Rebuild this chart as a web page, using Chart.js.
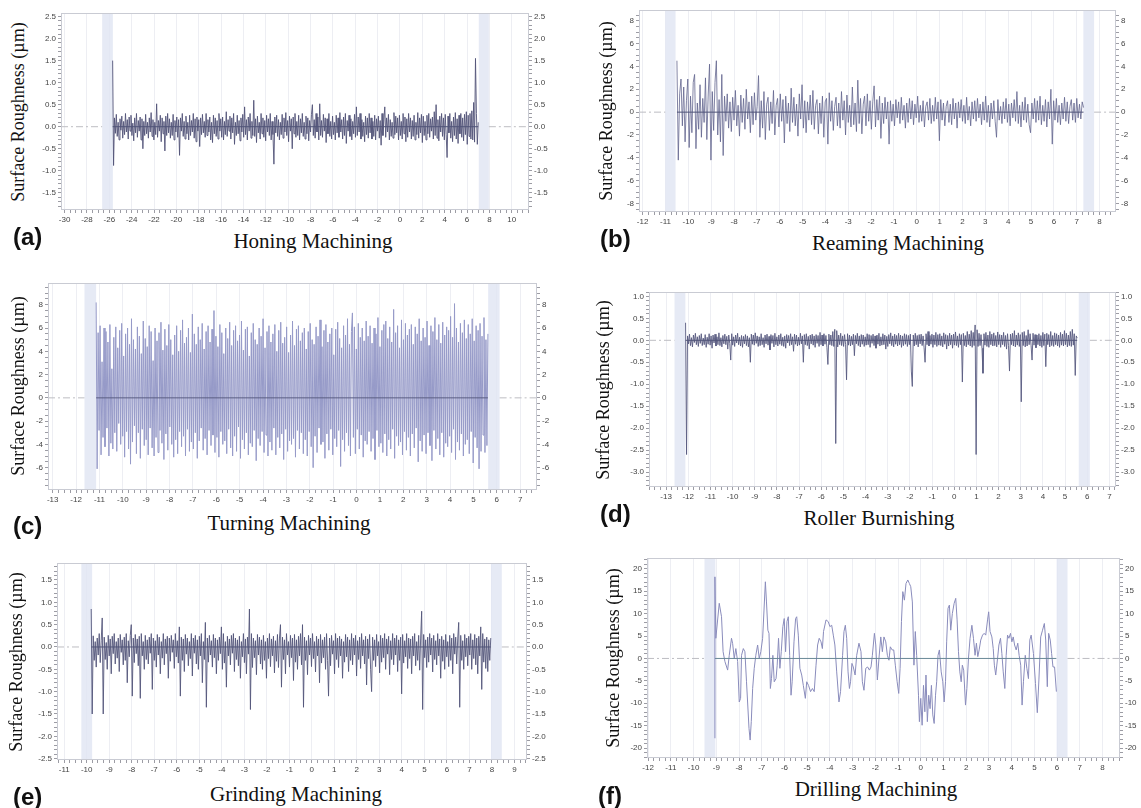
<!DOCTYPE html>
<html>
<head>
<meta charset="utf-8">
<script src="https://cdn.jsdelivr.net/npm/chart.js@4/dist/chart.umd.min.js"></script>
<style>
  body { margin: 0; width: 1141px; height: 808px; background: #fff; position: relative; overflow: hidden; }
  canvas { position: absolute; }
  .ytitle { position: absolute; transform: translate(-50%, -50%) rotate(-90deg); white-space: nowrap;
            font: 18px "Liberation Serif", "Times New Roman", serif; color: #111; }
  .xtitle { position: absolute; transform: translate(-50%, -50%); white-space: nowrap;
            font: 21px "Liberation Serif", "Times New Roman", serif; color: #111; }
  .tag { position: absolute; transform: translateY(-50%); white-space: nowrap;
         font: bold 24px "Liberation Sans", Arial, sans-serif; color: #111; }
</style>
</head>
<body>
<script>
// profile traces (µm)
const honingY = [
  1.5, -0.88, 0.2, -0.15, 0.28, -0.22, 0.1, -0.3, 0.18, -0.08, 0.24, -0.26, 0.12, -0.18, 0.3, -0.12, 0.16, -0.28, 0.22, -0.1,
  0.26, -0.2, 0.08, -0.32, 0.2, -0.14, 0.3, -0.24, 0.14, -0.1, 0.22, -0.3, 0.18, -0.5, 0.12, -0.2, 0.28, -0.16, 0.1, -0.26,
  0.2, -0.12, 0.32, -0.22, 0.16, -0.3, 0.1, -0.18, 0.52, -0.24, 0.14, -0.1, 0.26, -0.34, 0.2, -0.16, 0.12, -0.55, 0.24, -0.2,
  0.3, -0.14, 0.18, -0.26, 0.1, -0.2, 0.28, -0.3, 0.14, -0.12, 0.22, -0.24, 0.16, -0.65, 0.2, -0.1, 0.3, -0.22, 0.12, -0.28,
  0.24, -0.16, 0.1, -0.3, 0.26, -0.2, 0.14, -0.12, 0.3, -0.26, 0.18, -0.34, 0.22, -0.1, 0.16, -0.45, 0.2, -0.18, 0.28, -0.14,
  0.12, -0.24, 0.3, -0.2, 0.16, -0.12, 0.22, -0.3, 0.1, -0.36, 0.26, -0.16, 0.2, -0.22, 0.14, -0.28, 0.3, -0.1, 0.18, -0.24,
  0.22, -0.3, 0.12, -0.18, 0.34, -0.22, 0.16, -0.1, 0.24, -0.28, 0.2, -0.14, 0.3, -0.4, 0.1, -0.2, 0.26, -0.16, 0.14, -0.32,
  0.2, -0.12, 0.28, -0.24, 0.45, -0.18, 0.16, -0.3, 0.22, -0.1, 0.3, -0.26, 0.12, -0.2, 0.6, -0.22, 0.18, -0.36, 0.24, -0.14,
  0.1, -0.28, 0.3, -0.16, 0.2, -0.24, 0.14, -0.32, 0.26, -0.12, 0.18, -0.2, 0.3, -0.3, 0.12, -0.18, -0.85, 0.22, -0.14, 0.26,
  -0.22, 0.16, -0.3, 0.1, -0.18, 0.28, -0.26, 0.2, -0.12, 0.32, -0.2, 0.14, -0.34, 0.24, -0.1, 0.18, -0.5, 0.22, -0.16, 0.3,
  -0.24, 0.12, -0.2, 0.26, -0.3, 0.18, -0.14, 0.3, -0.22, 0.1, -0.28, 0.24, -0.16, 0.2, -0.32, 0.14, -0.12, 0.28, 0.5, -0.2,
  0.16, -0.26, 0.3, -0.12, 0.22, -0.3, 0.52, -0.2, 0.14, -0.24, 0.28, -0.1, 0.2, -0.36, 0.18, -0.16, 0.3, -0.22, 0.12, -0.28,
  0.24, -0.18, 0.1, -0.3, 0.26, -0.14, 0.2, -0.24, 0.32, -0.12, 0.16, -0.28, 0.22, -0.2, 0.3, -0.38, 0.14, -0.1, 0.26, -0.22,
  0.18, -0.3, 0.12, -0.16, 0.28, -0.24, 0.45, -0.2, 0.22, -0.12, 0.3, -0.28, 0.16, -0.22, 0.1, -0.34, 0.24, -0.18, 0.2, -0.26,
  0.3, -0.14, 0.2, -0.28, 0.12, -0.22, 0.26, -0.3, 0.18, -0.1, 0.24, -0.26, 0.14, -0.42, 0.3, -0.2, 0.16, 0.45, -0.24, 0.2,
  -0.12, 0.28, -0.3, 0.16, -0.22, 0.1, -0.26, 0.32, -0.18, 0.24, -0.14, 0.2, -0.3, 0.26, -0.2, 0.12, -0.28, 0.3, -0.16, 0.22,
  -0.34, 0.18, -0.24, 0.3, -0.12, 0.2, -0.28, 0.14, -0.22, 0.26, -0.3, 0.1, -0.18, 0.32, -0.26, 0.2, -0.14, 0.28, -0.36, 0.24,
  -0.2, 0.12, -0.3, 0.26, -0.16, 0.3, -0.24, 0.18, -0.1, 0.22, -0.28, 0.34, -0.2, 0.5, -0.26, 0.16, -0.32, 0.24, -0.12, 0.3,
  -0.22, 0.2, -0.3, 0.28, -0.18, -0.7, 0.24, -0.14, 0.3, -0.26, 0.12, -0.34, 0.22, -0.2, 0.32, -0.28, 0.18, -0.38, 0.26, -0.16,
  0.3, -0.24, 0.2, -0.32, 0.28, -0.18, 0.34, -0.4, 0.26, -0.22, 0.3, -0.28, 0.36, -0.3, 0.55, -0.35, 1.55, 0.3, -0.4, 0.1
];
const reamingY = [
  4.5, -4.2, 1.6, 2.9, -1.2, 2.2, -2.6, 1.0, 2.9, -3.1, 1.4, -1.8, 2.6, 3.3, -3.2, 0.8, -1.5, 2.4, -2.2, 1.2,
  -0.9, 3.0, -2.4, 1.5, 4.2, -4.2, 1.8, -1.6, 2.6, 4.5, -2.0, 1.1, -2.6, 3.3, -3.8, 1.4, -0.8, 1.6, -1.4, 0.9,
  -1.7, 1.3, -0.7, 1.9, -1.2, 0.6, -2.1, 1.5, -0.9, 1.2, -1.5, 2.0, -0.6, 0.9, -1.8, 1.4, -1.1, 1.7, -0.7, 0.5,
  3.2, -2.2, 1.0, -1.4, 1.8, -2.4, 0.7, 1.3, -1.6, 0.9, -1.0, 1.9, -2.0, 0.6, 1.2, -1.3, 1.6, -0.8, 1.1, -2.7,
  1.4, -1.0, 0.8, -1.7, 2.1, -0.9, 1.3, -1.2, 0.7, -2.1, 1.6, -0.6, 2.4, -1.4, 1.0, -1.8, 0.9, -0.7, 1.5, -1.1,
  1.9, -1.5, 0.6, 1.1, -1.9, 0.8, -1.0, 1.4, -2.2, 0.9, 1.2, -2.8, 1.7, -0.8, 1.0, -1.6, 0.5, 1.3, -1.2, 0.8,
  -1.4, 1.8, -0.7, 1.0, -2.0, 1.5, -0.9, 0.6, -1.3, 2.2, -1.1, 0.8, -1.7, 2.8, -1.0, 1.2, -1.9, 0.7, 1.4, -1.2,
  1.6, -0.8, 1.0, -1.5, 0.9, 2.3, -1.3, 1.1, -0.7, 1.4, -2.3, 0.8, -1.0, 1.3, -0.6, 0.9, -2.8, 1.0, -0.8, 0.7,
  -1.2, 1.1, -0.5, 0.9, -1.0, 1.3, -0.7, 0.6, -1.4, 0.8, -0.9, 1.2, -0.6, 1.0, -1.1, 0.7, -0.5, 1.4, -0.9, 0.6,
  -0.8, 1.0, -1.3, 0.5, 0.9, -0.7, 1.2, -1.0, 0.6, -0.8, 1.3, -0.6, 0.9, -2.5, 1.1, -0.7, 0.8, -1.2, 0.5, 1.0,
  -0.9, 0.7, -1.1, 1.2, -0.6, 0.8, -1.4, 0.9, -0.5, 1.1, -0.8, 0.6, -1.0, 1.3, -0.7, 0.5, -1.2, 0.9, -0.6, 1.0,
  -0.8, 1.2, -0.5, 0.7, -1.1, 0.9, -0.7, 1.4, -0.9, 0.6, -1.3, 0.8, -0.6, 1.0, -0.8, -2.2, 1.1, -0.7, 0.5, -1.0,
  0.9, -0.6, 1.2, -0.9, 0.7, -1.2, 0.8, -0.5, 1.1, -0.8, 1.8, -1.0, 0.6, -1.3, 0.9, -0.7, 1.3, -0.9, 0.7, -1.1,
  -1.8, 0.8, -0.6, 1.2, -0.9, 1.0, -0.7, 1.4, -1.1, 0.6, -0.8, 1.1, -1.3, 0.9, -0.6, 2.0, -2.8, 1.0, -0.7, 1.2,
  -0.9, 0.6, -1.1, 0.8, -0.6, 1.3, -0.8, 0.9, -1.0, 0.5, 1.1, -0.7, 0.8, -0.9, 1.2, -0.5, 0.7, -0.6, 0.9, 0.4
];
const turningY = [
  8.2, -6.1, 5.6, -2.8, 6.2, -4.9, 3.1, -3.4, 6.0, -4.2, 5.7, -2.6, 4.8, -5.0, 6.3, -3.9, 2.5, -4.4, 5.2, -3.0,
  6.1, -4.6, 4.3, -2.2, 5.8, -4.0, 6.4, -3.3, 3.6, -5.1, 5.5, -2.9, 6.0, -4.4, 4.6, -5.7, 6.8, -3.8, 5.0, -2.4,
  4.2, -4.8, 6.1, -3.0, 5.3, -5.2, 3.8, -2.7, 6.6, -4.1, 5.1, -3.6, 4.4, -4.9, 6.2, -2.6, 5.7, -4.3, 3.2, -5.0,
  6.0, -3.4, 4.9, -4.7, 5.6, -2.8, 6.5, -3.9, 4.1, -5.3, 5.9, -3.1, 4.5, -4.5, 6.3, -2.5, 5.0, -4.0, 3.7, -5.1,
  5.4, -3.6, 6.2, -4.8, 4.0, -2.9, 5.8, -4.2, 6.7, -3.3, 4.7, -5.0, 5.2, -2.7, 6.0, -4.6, 3.9, -3.8, 7.2, -4.4,
  5.5, -3.0, 4.6, -5.2, 6.1, -3.7, 5.0, -2.6, 6.4, -4.5, 4.2, -3.5, 5.7, -4.9, 6.2, -2.8, 4.8, -4.1, 5.9, -3.2,
  7.5, -4.7, 5.3, -3.4, 4.4, -5.1, 6.3, -2.9, 5.6, -4.0, 3.8, -3.7, 6.0, -4.8, 5.1, -2.7, 6.5, -4.3, 4.5, -5.0,
  5.8, -3.3, 6.2, -4.6, 4.9, -2.5, 5.4, -5.2, 6.6, -3.6, 4.1, -4.4, 5.9, -3.0, 6.1, -4.9, 3.6, -3.9, 5.6, -4.2,
  6.4, -2.8, 5.0, -5.4, 4.6, -3.5, 6.0, -4.1, 5.3, -2.9, 6.8, -4.7, 4.3, -3.2, 5.7, -5.0, 6.2, -3.8, 4.8, -4.5,
  5.5, -2.6, 6.3, -4.9, 4.0, -3.4, 5.8, -4.3, 6.5, -3.1, 4.7, -5.3, 5.2, -2.7, 6.1, -4.6, 3.9, -3.7, 5.4, -4.0,
  6.6, -3.5, 4.5, -5.1, 5.9, -2.8, 6.2, -4.4, 4.9, -3.0, 5.6, -4.8, 6.0, -3.6, 4.2, -5.0, 5.7, -2.9, 6.4, -4.2,
  5.0, -6.0, 4.6, -3.3, 6.1, -4.7, 5.3, -2.6, 6.7, -4.0, 4.4, -3.8, 5.8, -5.2, 6.3, -3.1, 4.8, -4.5, 5.5, -2.7,
  6.0, -4.9, 3.7, -3.5, 5.9, -4.2, 6.5, -2.8, 5.1, -5.9, 4.3, -3.6, 6.2, -4.6, 5.4, -3.0, 6.8, -4.1, 4.6, -5.0,
  5.7, 7.3, -3.4, 6.1, -4.8, 4.2, -2.7, 6.4, -4.4, 5.2, -3.2, 6.0, -5.1, 4.9, -3.7, 6.6, -4.0, 5.3, -2.9, 6.2,
  -4.6, 4.7, -3.5, 6.0, -5.3, 5.5, -2.8, 6.9, -4.2, 4.4, -3.9, 5.8, -4.7, 6.3, -3.1, 6.6, -5.0, 5.1, -3.6, 6.1,
  -4.4, 4.8, -2.7, 7.6, -5.2, 5.6, -3.3, 6.2, -4.1, 4.3, -3.8, 6.7, -4.9, 5.0, -2.9, 6.4, -4.5, 5.4, -3.4, 5.9,
  -5.0, 6.3, -3.1, 4.6, -4.3, 6.1, -2.6, 5.5, -5.5, 6.8, -3.7, 4.9, -4.6, 6.0, -3.2, 5.2, -4.8, 6.6, -3.0, 4.5,
  -4.1, 6.2, -5.4, 5.7, -2.8, 6.9, -4.4, 5.0, -3.5, 6.3, -4.9, 4.7, -3.0, 6.5, -5.1, 5.4, -3.9, 6.1, -4.2, 5.8,
  -3.3, 7.0, -4.7, 5.2, -2.7, 8.1, -5.3, 6.0, -3.8, 4.8, -4.5, 6.4, -3.1, 5.6, -5.0, 6.7, -4.0, 5.1, -3.6, 6.3,
  -4.8, 5.5, -2.9, 6.8, -5.6, 4.9, -3.4, 6.2, -4.3, 5.8, -6.1, 6.4, -4.6, 5.3, -3.2, 6.9, -4.7, 5.0, -4.1, 5.5
];
const burnishY = [
  0.4, -2.6, 0.1, -0.08, 0.14, -0.12, 0.06, -0.15, 0.12, -0.05, 0.16, -0.1, 0.08, -0.14, 0.11, -0.07, 0.15, -0.12, 0.05, -0.1,
  0.13, -0.16, 0.07, -0.09, 0.15, -0.11, 0.1, -0.18, 0.12, -0.06, 0.14, -0.13, 0.08, -0.1, 0.17, -0.12, 0.06, -0.15, 0.11, -0.08,
  0.14, -0.1, 0.09, -0.2, 0.12, -0.07, -0.45, 0.15, -0.11, 0.08, -0.14, 0.12, -0.06, 0.16, -0.1, 0.07, -0.13, 0.11, -0.16, 0.09,
  -0.08, 0.13, -0.12, 0.1, -0.15, 0.06, -0.5, 0.14, -0.09, 0.12, -0.11, 0.17, -0.07, 0.1, -0.14, 0.08, -0.12, 0.15, -0.1, 0.06,
  -0.16, 0.12, -0.08, 0.14, -0.11, 0.09, -0.22, 0.13, -0.07, 0.11, -0.15, 0.16, -0.1, 0.08, -0.13, 0.12, -0.09, 0.15, -0.12, 0.07,
  -0.14, 0.1, -0.18, 0.13, -0.06, 0.11, -0.12, 0.15, -0.1, 0.08, -0.25, 0.14, -0.09, 0.12, -0.13, 0.07, -0.11, 0.16, -0.08, 0.1,
  -0.5, 0.13, -0.1, 0.15, -0.12, 0.09, -0.2, 0.12, -0.08, 0.14, -0.11, 0.1, -0.16, 0.13, -0.07, 0.11, -0.14, 0.18, -0.1, 0.12,
  -0.13, 0.15, -0.09, 0.11, -0.16, -0.55, 0.14, -0.1, 0.12, -0.12, 0.2, -0.14, 0.25, -2.35, 0.22, -0.15, 0.12, -0.1, 0.16, -0.12,
  0.1, -0.14, 0.13, -0.09, -0.9, 0.15, -0.11, 0.12, -0.13, 0.09, -0.1, 0.14, -0.35, 0.11, -0.08, 0.16, -0.12, 0.1, -0.15, 0.13,
  -0.09, 0.12, -0.14, 0.08, -0.11, 0.15, -0.1, 0.13, -0.16, 0.11, -0.07, 0.14, -0.12, 0.1, -0.18, 0.12, -0.09, 0.16, -0.13, 0.08,
  -0.11, 0.15, -0.1, 0.12, -0.2, 0.09, -0.14, 0.13, -0.08, 0.17, -0.12, 0.1, -0.15, 0.14, -0.09, 0.11, -0.13, 0.16, -0.1, 0.12,
  -0.16, 0.1, -0.12, 0.15, -0.09, 0.13, -0.14, 0.11, -0.1, 0.14, -0.7, -1.05, 0.12, -0.13, 0.16, -0.1, 0.11, -0.15, 0.13, -0.08,
  0.14, -0.12, 0.1, -0.17, -0.5, 0.15, -0.1, 0.2, -0.13, 0.11, -0.09, 0.14, -0.16, 0.12, -0.1, 0.18, -0.14, 0.13, -0.11, 0.15,
  -0.12, 0.1, -0.15, 0.17, -0.09, 0.13, -0.2, 0.11, -0.13, 0.16, -0.1, 0.12, -0.18, 0.14, -0.11, 0.19, -0.12, 0.1, -0.16, 0.15,
  -0.1, 0.13, -0.95, 0.16, -0.12, 0.11, -0.15, 0.2, -0.1, 0.14, -0.13, 0.22, -0.16, 0.18, -0.12, 0.35, -2.6, 0.24, -0.14, 0.16,
  -0.12, 0.13, -0.18, -0.75, 0.15, -0.11, 0.18, -0.14, 0.12, -0.16, 0.2, -0.1, 0.14, -0.13, 0.17, -0.12, 0.11, -0.15, 0.19, -0.1,
  0.13, -0.16, 0.12, -0.1, 0.18, -0.14, 0.11, -0.2, 0.15, -0.12, -0.7, 0.14, -0.1, 0.16, -0.13, 0.22, -0.15, 0.12, -0.11, 0.17,
  -0.14, 0.13, -1.4, 0.18, -0.12, 0.2, -0.15, 0.11, -0.13, 0.24, -0.1, 0.15, -0.12, -0.45, 0.16, -0.11, 0.13, -0.17, 0.12, -0.1,
  0.15, -0.13, 0.11, -0.16, 0.18, -0.12, 0.14, -0.6, 0.16, -0.1, 0.13, -0.15, 0.2, -0.12, 0.11, -0.14, 0.17, -0.1, 0.15, -0.13,
  0.12, -0.16, 0.18, -0.11, 0.14, -0.13, 0.22, -0.1, 0.16, -0.15, 0.12, -0.12, 0.2, -0.14, 0.25, -0.11, 0.15, -0.8, 0.1, 0.05
];
const grindingY = [
  0.85, -1.5, 0.25, -0.3, 0.12, -0.45, 0.2, -0.18, 0.3, -0.35, 0.15, 0.65, -1.5, 0.22, -0.28, 0.1, -0.5, 0.26, -0.2, 0.18,
  -0.6, 0.24, -0.15, 0.3, -0.38, 0.12, -0.25, 0.2, -0.55, 0.28, -0.12, 0.16, -0.4, 0.22, -0.3, 0.3, -0.8, 0.14, -0.22, 0.26,
  0.5, -1.1, 0.2, -0.35, 0.28, -0.15, 0.18, -0.42, 0.24, -1.15, 0.3, -0.2, 0.12, -0.5, 0.26, -0.28, 0.16, -0.38, 0.22, -0.14,
  0.3, -0.95, 0.2, -0.3, 0.14, -0.45, 0.28, -0.18, 0.22, -0.6, 0.12, -0.25, 0.3, -0.4, 0.18, -0.15, 0.24, -0.7, 0.2, -0.32,
  0.26, -0.12, 0.16, -0.48, 0.3, -0.22, 0.14, -0.36, 0.45, -1.1, 0.22, -0.3, 0.18, -0.55, 0.28, -0.16, 0.2, -0.42, 0.12, -0.26,
  0.3, -0.65, 0.2, -0.14, 0.26, -0.38, 0.16, -0.5, 0.24, -0.2, 0.3, -0.8, 0.12, -0.28, 0.55, -1.35, 0.2, -0.34, 0.26, -0.18,
  0.14, -0.45, 0.28, -0.24, 0.2, -0.6, 0.16, -0.3, 0.22, -0.15, 0.45, -0.5, 0.3, -0.36, 0.12, -0.9, 0.24, -0.2, 0.18, -0.4,
  0.26, -0.14, 0.3, -0.55, 0.2, -0.28, 0.16, -0.42, 0.24, -0.7, 0.12, -0.22, 0.3, -0.35, 0.18, -0.6, 0.22, -0.16, 0.85, -1.4,
  0.3, -0.46, 0.2, -0.24, 0.14, -0.62, 0.28, -0.18, 0.22, -0.38, 0.16, -0.5, 0.26, -0.3, 0.12, -0.7, 0.2, -0.26, 0.3, -0.44,
  0.18, -0.2, 0.24, -0.58, 0.14, -0.32, 0.28, -0.46, 0.2, 0.5, -0.9, 0.22, -0.28, 0.16, -0.6, 0.3, -0.18, 0.12, -0.45, 0.26,
  -0.24, 0.2, -0.75, 0.28, -0.34, 0.16, -0.5, 0.24, -0.2, 0.3, -0.4, 0.5, -1.35, 0.22, -0.3, 0.14, -0.62, 0.26, -0.18, 0.2,
  -0.44, 0.3, -0.26, 0.12, -0.56, 0.24, -0.2, 0.18, -0.8, 0.28, -0.36, 0.16, -0.24, 0.22, -0.5, 0.3, -0.3, -1.1, 0.2, -0.42,
  0.26, -0.16, 0.14, -0.6, 0.3, -0.28, 0.2, -0.46, 0.24, -0.2, 0.18, -0.7, 0.12, -0.34, 0.28, -0.22, 0.22, -0.55, 0.16, -0.3,
  0.3, -0.4, 0.2, -0.18, 0.26, -0.65, 0.14, -0.28, 0.22, -0.48, 0.3, -0.2, 0.16, -0.38, 0.24, -0.85, 0.18, -0.26, 0.28, -0.5,
  -1.0, 0.22, -0.3, 0.16, -0.44, 0.28, -0.2, 0.12, -0.58, 0.26, -0.34, 0.2, -0.24, 0.3, -0.5, 0.18, -0.16, 0.24, -0.62, 0.14,
  -0.28, 0.3, -0.4, 0.2, -0.18, 0.26, -0.55, 0.16, -0.3, 0.22, -1.05, 0.28, -0.36, 0.14, -0.22, 0.3, -0.48, 0.2, -0.26, 0.18,
  -0.6, 0.24, -0.2, 0.3, -0.42, 0.12, -0.3, 0.26, -0.52, 0.2, 0.8, -1.4, 0.28, -0.24, 0.16, -0.46, 0.22, -0.34, 0.3, -0.18,
  0.2, -0.56, 0.26, -0.28, 0.14, -0.4, 0.3, -0.2, 0.18, -0.7, 0.24, -0.32, 0.16, -0.5, 0.28, -0.22, 0.12, -0.44, 0.26, -0.3,
  0.2, -0.6, 0.3, -0.16, 0.22, -0.38, 0.18, 0.55, -1.35, 0.26, -0.3, 0.14, -0.5, 0.28, -0.22, 0.2, -0.42, 0.24, -0.18, 0.3,
  -0.5, 0.16, -0.26, 0.28, -0.4, 0.2, -0.6, 0.24, -0.2, 0.45, -0.95, 0.3, -0.34, 0.18, -0.48, 0.22, -0.55, 0.16, -0.3, 0.2
];
// drilling is traced point by point, so it keeps its own positions
const drillX = [
  -9.06, -9.06, -9.02, -8.87, -8.77, -8.70, -8.62, -8.50, -8.43, -8.33, -8.28, -8.21, -8.14, -8.06, -7.99, -7.93, -7.89, -7.81,
  -7.74, -7.67, -7.56, -7.51, -7.46, -7.40, -7.33, -7.26, -7.18, -7.11, -7.04, -6.96, -6.90, -6.84, -6.79, -6.73, -6.68, -6.62,
  -6.57, -6.51, -6.45, -6.37, -6.32, -6.26, -6.20, -6.14, -6.07, -6.01, -5.95, -5.89, -5.83, -5.77, -5.71, -5.66, -5.58, -5.51,
  -5.46, -5.39, -5.32, -5.24, -5.17, -5.08, -5.02, -4.94, -4.85, -4.77, -4.69, -4.61, -4.54, -4.47, -4.39, -4.33, -4.28, -4.17,
  -4.07, -4.00, -3.92, -3.85, -3.78, -3.70, -3.60, -3.53, -3.44, -3.38, -3.32, -3.26, -3.20, -3.14, -3.09, -3.03, -2.97, -2.89,
  -2.82, -2.72, -2.63, -2.57, -2.50, -2.42, -2.34, -2.26, -2.19, -2.13, -2.04, -1.98, -1.91, -1.84, -1.76, -1.69, -1.62, -1.54,
  -1.47, -1.40, -1.34, -1.26, -1.19, -1.12, -1.04, -0.97, -0.91, -0.85, -0.79, -0.72, -0.65, -0.57, -0.50, -0.44, -0.37, -0.30,
  -0.24, -0.18, -0.10, -0.06, 0.00, 0.06, 0.12, 0.18, 0.23, 0.29, 0.35, 0.41, 0.47, 0.53, 0.59, 0.65, 0.70, 0.76, 0.82, 0.90,
  0.97, 1.03, 1.09, 1.14, 1.20, 1.26, 1.32, 1.39, 1.47, 1.54, 1.60, 1.66, 1.72, 1.78, 1.83, 1.89, 1.97, 2.03, 2.10, 2.17,
  2.25, 2.32, 2.39, 2.45, 2.51, 2.57, 2.64, 2.72, 2.79, 2.86, 2.94, 2.99, 3.05, 3.13, 3.19, 3.24, 3.30, 3.38, 3.44, 3.51,
  3.57, 3.63, 3.70, 3.76, 3.82, 3.88, 3.95, 4.01, 4.07, 4.13, 4.20, 4.27, 4.33, 4.40, 4.46, 4.52, 4.60, 4.67, 4.74, 4.80,
  4.86, 4.96, 5.05, 5.13, 5.20, 5.28, 5.36, 5.44, 5.50, 5.57, 5.63, 5.70, 5.76, 5.82, 5.89, 5.97
];
const drillY = [
  -17.8, 18.2, 4.5, 12.3, 9.3, 1.5, -0.7, -2.6, 0.7, 4.5, 3.3, 0.0, 2.2, -0.7, -9.7, -8.9, 0.7, 2.2,
  1.5, -5.2, -15.6, -18.2, -14.1, -6.7, -2.2, 0.7, 3.0, 0.0, 1.5, 4.5, 10.8, 17.1, 12.6, 6.3, 5.6, -6.7,
  -4.5, 0.7, -5.2, -4.5, -1.5, 4.5, -2.2, 1.5, 7.1, 8.9, 1.5, 8.2, 9.3, 0.7, -8.2, -5.2, 3.7, 8.9,
  9.3, 5.2, -2.2, -3.7, -6.0, -8.9, -5.2, -6.0, -7.4, -6.7, -7.4, -1.5, 3.0, 4.5, 3.7, 2.2, 6.0, 8.6,
  8.2, 7.1, 7.4, 5.2, 3.0, -3.0, -9.7, -7.4, 0.7, 6.0, 7.4, 4.5, -3.0, -6.7, -5.2, -1.1, -1.9, -3.7,
  0.7, 3.4, 1.5, -5.2, -7.1, -2.2, -1.9, -2.6, -1.9, 0.7, 5.6, 3.0, -4.8, 0.0, 4.8, 1.5, 4.8, 3.7,
  0.7, -0.4, 2.6, 1.9, 1.9, -1.5, -5.2, -7.8, -2.2, 8.2, 14.9, 13.0, 16.7, 17.5, 16.7, 16.0, 12.6, -1.5,
  6.0, 0.7, -8.2, -14.1, -8.9, -14.9, -6.0, -11.9, -3.7, -14.1, -8.2, -11.2, -6.0, -12.6, -14.5, -8.2, -5.2, 0.7, 1.9, -3.0,
  -5.2, -9.7, -5.2, 3.7, 11.2, 11.9, 6.3, 10.0, 12.3, 13.4, 8.6, 1.5, -3.0, -5.2, -1.5, -2.6, -10.4, -6.7, 0.0, 4.5,
  7.4, 4.5, 0.7, 3.4, 0.4, 1.9, 4.1, 5.2, 5.6, 5.2, 8.6, 10.4, 6.0, 4.8, 2.2, -1.5, -3.7, 0.0, 3.0, 4.5,
  1.1, -3.0, -6.7, 0.7, 5.2, 4.5, 5.6, 3.7, 4.8, 3.0, 1.9, 3.4, 0.7, -1.5, -10.4, -5.2, 0.7, -2.2, -4.5, 4.1,
  5.2, 1.1, -5.6, -12.1, -4.8, 4.8, 6.3, 7.8, 4.1, -6.3, 5.6, 4.1, 1.1, -1.9, -1.9, -7.4
];

// where each sampled trace starts and ends on the x axis
const honingSpan = [-25.7, 7.0];
const reamingSpan = [-10.5, 7.3];
const turningSpan = [-11.14, 5.62];
const burnishSpan = [-12.12, 5.55];
const grindingSpan = [-9.8, 7.95];

const panelTitles = ['Honing Machining', 'Reaming Machining', 'Turning Machining',
                     'Roller Burnishing', 'Grinding Machining', 'Drilling Machining'];
const panelTags = ['(a)', '(b)', '(c)', '(d)', '(e)', '(f)'];
const yTitle = 'Surface Roughness (\u00b5m)';

function sampleX(span, n) {
  const step = (span[1] - span[0]) / (n - 1);
  const xs = [];
  for (let i = 0; i < n; i++) xs.push(span[0] + i * step);
  return xs;
}

function pairs(xs, ys) {
  return ys.map((y, i) => ({ x: xs[i], y: y }));
}

const panels = [
  { box: [61, 13, 529, 210], x: [-30.32, 11.54, 2, 0.5], y: [-1.89, 2.58, 0.5, 0.1, 1],
    bands: [[-26.64, -25.68], [7.05, 7.95]], xs: sampleX(honingSpan, honingY.length), ys: honingY,
    color: 'rgb(82,84,120)', width: 0.9, zero: 'rgb(80,84,120)',
    yt: [18, 112], xt: [313, 241], tag: [13, 237] },
  { box: [639, 10, 1116, 212], x: [-12.16, 8.72, 1, 0.25], y: [-8.74, 8.94, 2, 0.5, 0],
    bands: [[-11.01, -10.56], [7.29, 7.76]], xs: sampleX(reamingSpan, reamingY.length), ys: reamingY,
    color: 'rgb(98,100,142)', width: 0.8, zero: 'rgb(80,84,120)',
    yt: [606, 111], xt: [898, 243], tag: [600, 239] },
  { box: [48, 283, 537, 490], x: [-13.2, 7.72, 1, 0.25], y: [-7.92, 9.87, 2, 0.5, 0],
    bands: [[-11.64, -11.14], [5.63, 6.12]], xs: sampleX(turningSpan, turningY.length), ys: turningY,
    color: 'rgb(150,154,200)', width: 1, zero: 'rgb(90,94,130)',
    yt: [18, 386], xt: [289, 523], tag: [13, 526] },
  { box: [649, 292, 1116, 487], x: [-13.77, 7.3, 1, 0.25], y: [-3.34, 1.1, 0.5, 0.1, 1],
    bands: [[-12.62, -12.13], [5.62, 6.12]], xs: sampleX(burnishSpan, burnishY.length), ys: burnishY,
    color: 'rgb(88,90,128)', width: 0.9, zero: 'rgb(80,84,120)',
    yt: [603, 390], xt: [879, 518], tag: [600, 514] },
  { box: [57, 563, 527, 760], x: [-11.32, 9.56, 1, 0.25], y: [-2.53, 1.88, 0.5, 0.1, 1],
    bands: [[-10.24, -9.76], [7.96, 8.44]], xs: sampleX(grindingSpan, grindingY.length), ys: grindingY,
    color: 'rgb(84,86,122)', width: 0.9, zero: 'rgb(80,84,120)',
    yt: [16, 662], xt: [296, 794], tag: [13, 797] },
  { box: [647, 558, 1120, 758], x: [-12.05, 8.77, 1, 0.25], y: [-22.2, 22.4, 5, 1, 0],
    bands: [[-9.52, -9.04], [5.98, 6.46]], xs: drillX, ys: drillY,
    color: 'rgb(138,140,188)', width: 1, zero: 'rgb(105,135,150)',
    yt: [613, 658], xt: [876, 789], tag: [598, 796] }
];

function tickFmt(major, digits) {
  return function (v) {
    const k = v / major;
    if (Math.abs(k - Math.round(k)) > 1e-6) return '';
    return (Math.round(k) * major).toFixed(digits);
  };
}

const bandPlugin = {
  id: 'bands',
  beforeDatasetsDraw(chart, args, opts) {
    const { ctx, chartArea: a, scales: { x } } = chart;
    ctx.save();
    ctx.fillStyle = 'rgba(226,230,243,0.85)';
    opts.bands.forEach(b => {
      const x0 = x.getPixelForValue(b[0]);
      const x1 = x.getPixelForValue(b[1]);
      ctx.fillRect(x0, a.top, x1 - x0, a.bottom - a.top);
    });
    ctx.restore();
  },
  afterDatasetsDraw(chart) {
    const { ctx, chartArea: a } = chart;
    ctx.save();
    ctx.strokeStyle = '#c9cbd3';
    ctx.lineWidth = 1;
    ctx.strokeRect(a.left + 0.5, a.top + 0.5, a.right - a.left - 1, a.bottom - a.top - 1);
    ctx.restore();
  }
};

function yScale(p, side) {
  const [min, max, major, minor, digits] = p.y;
  return {
    type: 'linear', position: side, min: min, max: max,
    border: { display: false },
    grid: { drawOnChartArea: false, tickLength: 3, tickColor: '#9c9ca4' },
    ticks: { stepSize: minor, includeBounds: false, autoSkip: false, padding: 2,
             color: '#444', font: { family: 'Liberation Sans', size: 8 },
             callback: tickFmt(major, digits) },
    afterFit: s => { s.width = 30; }
  };
}

panels.forEach((p, i) => {
  const [L, T, R, B] = p.box;
  const cv = document.createElement('canvas');
  cv.width = R - L + 60;
  cv.height = B - T + 26;
  cv.style.left = (L - 30) + 'px';
  cv.style.top = (T - 10) + 'px';
  document.body.appendChild(cv);

  const [xmin, xmax, xmajor, xminor] = p.x;
  const span = [p.xs[0], p.xs[p.xs.length - 1]];

  new Chart(cv, {
    type: 'line',
    data: {
      datasets: [
        { data: [{ x: xmin, y: 0 }, { x: p.bands[0][0], y: 0 }],
          borderColor: '#bdbdc2', borderWidth: 1, borderDash: [7, 3, 2, 3] },
        { data: [{ x: p.bands[1][1], y: 0 }, { x: xmax, y: 0 }],
          borderColor: '#bdbdc2', borderWidth: 1, borderDash: [7, 3, 2, 3] },
        { data: [{ x: span[0], y: 0 }, { x: span[1], y: 0 }],
          borderColor: p.zero, borderWidth: 1 },
        { data: pairs(p.xs, p.ys), borderColor: p.color, borderWidth: p.width }
      ]
    },
    options: {
      responsive: false,
      animation: false,
      devicePixelRatio: 1,
      events: [],
      layout: { padding: { top: 10, left: 0, right: 0, bottom: 0 } },
      elements: { point: { radius: 0 }, line: { tension: 0, borderJoinStyle: 'miter' } },
      plugins: { legend: { display: false }, tooltip: { enabled: false }, bands: { bands: p.bands } },
      scales: {
        x: {
          type: 'linear', min: xmin, max: xmax,
          border: { display: false },
          grid: {
            tickLength: 3, tickColor: '#9c9ca4',
            color: c => (Math.abs(c.tick.value / xmajor - Math.round(c.tick.value / xmajor)) < 1e-6)
              ? 'rgba(214,217,228,0.45)' : 'rgba(0,0,0,0)'
          },
          ticks: { stepSize: xminor, includeBounds: false, autoSkip: false, maxRotation: 0, minRotation: 0,
                   padding: 2, color: '#444', font: { family: 'Liberation Sans', size: 8 },
                   callback: tickFmt(xmajor, 0) },
          afterFit: s => { s.height = 16; }
        },
        y: yScale(p, 'left'),
        y2: yScale(p, 'right')
      }
    },
    plugins: [bandPlugin]
  });

  const yt = document.createElement('div');
  yt.className = 'ytitle';
  yt.textContent = yTitle;
  yt.style.left = p.yt[0] + 'px';
  yt.style.top = p.yt[1] + 'px';
  document.body.appendChild(yt);

  const xt = document.createElement('div');
  xt.className = 'xtitle';
  xt.textContent = panelTitles[i];
  xt.style.left = p.xt[0] + 'px';
  xt.style.top = p.xt[1] + 'px';
  document.body.appendChild(xt);

  const tag = document.createElement('div');
  tag.className = 'tag';
  tag.textContent = panelTags[i];
  tag.style.left = p.tag[0] + 'px';
  tag.style.top = p.tag[1] + 'px';
  document.body.appendChild(tag);
});
</script>
</body>
</html>
